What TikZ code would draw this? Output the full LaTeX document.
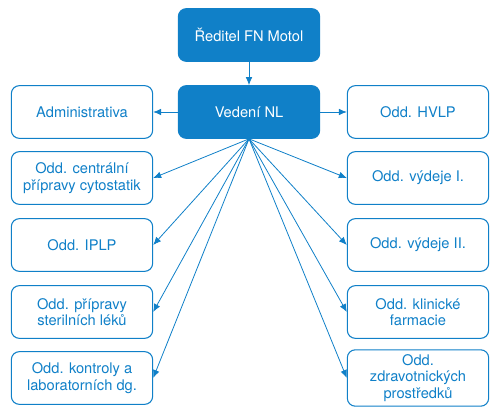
\documentclass[tikz,border=0pt]{standalone}
\usepackage{fontspec}
\setmainfont{TeX Gyre Heros}
\usepackage{tikz}
\usetikzlibrary{arrows.meta}
\usetikzlibrary{positioning}
\definecolor{motolblue}{RGB}{16,128,200}

\tikzset{
  unit/.style={draw=motolblue,line width=0.8pt,rounded corners=6pt,minimum width=106pt,minimum height=39.5pt,align=center,text=motolblue,font=\fontsize{11}{12.5}\selectfont},
  head/.style={unit,fill=motolblue,text=white},
  link/.style={->,draw=motolblue,line width=0.6pt}
}

\begin{document}
\begin{tikzpicture}[line cap=round,line join=round,>={Latex[length=6pt,width=5pt]},x=0.75pt,y=-0.75pt]
\useasboundingbox (0,0) rectangle (500,416);
\node[head] (reditel) at (249,35) {Ředitel FN Motol};
\node[head] (vedeni) at (249,112) {Vedení NL};
\node[unit] (admin) at (82,112) {Administrativa};
\node[unit] (hvlp) at (418,112) {Odd. HVLP};
\node[unit] (cyto) at (82,178) {Odd. centrální\\přípravy cytostatik};
\node[unit] (iplp) at (82,245) {Odd. IPLP};
\node[unit] (steril) at (82,312) {Odd. přípravy\\sterilních léků};
\node[unit] (kontrola) at (82,378) {Odd. kontroly a\\laboratorních dg.};
\node[unit] (vydejI) at (418,178) {Odd. výdeje I.};
\node[unit] (vydejII) at (418,245) {Odd. výdeje II.};
\node[unit] (klin) at (418,312) {Odd. klinické\\farmacie};
\node[unit] (zp) at (418,378) {Odd.\\zdravotnických\\prostředků};
\draw[link] (reditel) -- (vedeni);
\draw[link] (vedeni) -- (admin);
\draw[link] (vedeni) -- (hvlp);
\foreach \n in {cyto,iplp,steril,kontrola}
\draw[link] (vedeni.south) -- (\n.east);
\foreach \n in {vydejI,vydejII,klin,zp}
\draw[link] (vedeni.south) -- (\n.west);
\end{tikzpicture}
\end{document}
